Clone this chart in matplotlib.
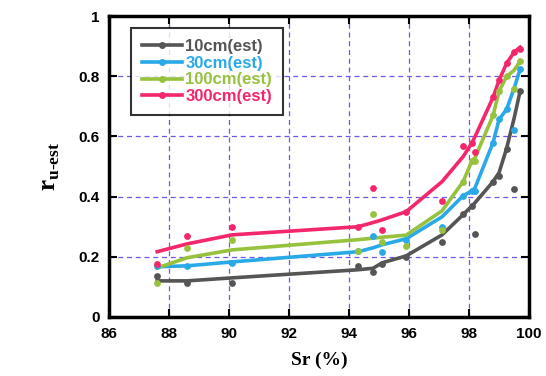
import matplotlib.pyplot as plt
from matplotlib.lines import Line2D

# Sr values (%) shared by all depths
sr = [87.6, 88.6, 90.1, 94.3, 94.8, 95.1, 95.9, 97.1, 97.8, 98.1, 98.2, 98.8, 99.0, 99.25, 99.5, 99.7]

# estimated curves
est_10 = [0.12, 0.12, 0.13, 0.157, 0.162, 0.18, 0.203, 0.273, 0.34, 0.37, 0.38, 0.45, 0.48, 0.56, 0.66, 0.75]
est_30 = [0.167, 0.17, 0.183, 0.217, 0.23, 0.24, 0.26, 0.333, 0.403, 0.42, 0.43, 0.58, 0.657, 0.69, 0.76, 0.823]
est_100 = [0.163, 0.197, 0.223, 0.257, 0.262, 0.265, 0.272, 0.353, 0.45, 0.52, 0.53, 0.67, 0.75, 0.80, 0.82, 0.85]
est_300 = [0.217, 0.243, 0.273, 0.30, 0.314, 0.323, 0.35, 0.45, 0.533, 0.58, 0.60, 0.73, 0.787, 0.843, 0.88, 0.897]

# measured points
meas_10 = [0.137, 0.113, 0.113, 0.17, 0.15, 0.177, 0.20, 0.25, 0.343, 0.37, 0.277, 0.45, 0.467, 0.56, 0.427, 0.75]
meas_30 = [0.17, 0.17, 0.18, 0.22, 0.27, 0.217, 0.257, 0.30, 0.403, 0.42, 0.42, 0.58, 0.657, 0.69, 0.62, 0.823]
meas_100 = [0.113, 0.23, 0.257, 0.22, 0.343, 0.25, 0.237, 0.29, 0.45, 0.52, 0.52, 0.67, 0.75, 0.80, 0.757, 0.85]
meas_300 = [0.177, 0.27, 0.30, 0.30, 0.43, 0.29, 0.35, 0.387, 0.57, 0.58, 0.55, 0.73, 0.787, 0.843, 0.88, 0.89]

labels = ["10cm(est)", "30cm(est)", "100cm(est)", "300cm(est)"]
colors = ["#555555", "#2aa9e9", "#97c23d", "#f4266c"]
est = [est_10, est_30, est_100, est_300]
meas = [meas_10, meas_30, meas_100, meas_300]

plt.rcParams["font.family"] = ["Liberation Sans", "DejaVu Sans"]
plt.rcParams["mathtext.fontset"] = "custom"
plt.rcParams["mathtext.bf"] = "Liberation Serif:bold"
plt.rcParams["mathtext.rm"] = "Liberation Serif:bold"

fig = plt.figure(figsize=(5.46, 3.76), dpi=100)
ax = fig.add_axes([0.2, 0.157, 0.769, 0.8])

for e, m, c in zip(est, meas, colors):
    ax.plot(sr, e, color=c, lw=2.6, zorder=3)
    ax.scatter(sr, m, color=c, s=24, zorder=4, linewidths=0)

ax.set_xlim(86, 100)
ax.set_ylim(0, 1)
ax.set_xticks(range(86, 101, 2))
ax.set_yticks([0, 0.2, 0.4, 0.6, 0.8, 1])
ax.set_yticklabels(["0", "0.2", "0.4", "0.6", "0.8", "1"])
ax.grid(True, color="#7057e6", ls=(0, (4, 3)), lw=0.9)

ax.tick_params(direction="in", top=True, right=True, length=6, width=1.5,
               labelsize=11, pad=7)
for t in ax.get_xticklabels() + ax.get_yticklabels():
    t.set_fontweight("bold")
for s in ax.spines.values():
    s.set_linewidth(2.5)

ax.set_xlabel("Sr (%)", family="Liberation Serif", fontweight="bold", fontsize=14, labelpad=8)
ax.set_ylabel(r"$\mathrm{r}_{\mathrm{u\text{-}est}}$", fontsize=18, labelpad=12)

handles = [Line2D([], [], color=c, lw=2.6, marker="o", markersize=4) for c in colors]
leg = ax.legend(handles, labels, loc="upper left", bbox_to_anchor=(0.052, 0.96), borderaxespad=0,
                frameon=True, fancybox=False, edgecolor="black", handlelength=2.4,
                handletextpad=0.2, labelspacing=0.1, borderpad=0.65,
                prop={"weight": "bold", "size": 12})
leg.get_frame().set_linewidth(1.5)
for txt, c in zip(leg.get_texts(), colors):
    txt.set_color(c)

plt.savefig("out.png", dpi=100)
